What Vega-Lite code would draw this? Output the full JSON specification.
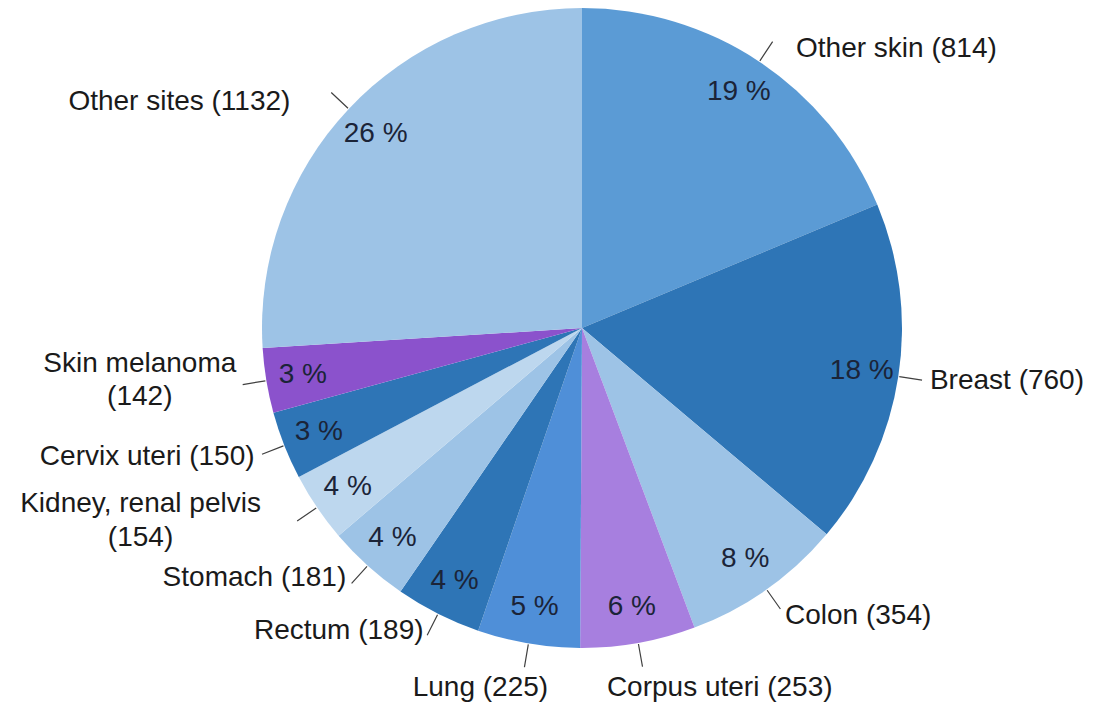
{
  "$schema": "https://vega.github.io/schema/vega-lite/v6.json",
  "width": 1032,
  "height": 656,
  "autosize": {"type": "none"},
  "padding": {"left": 66, "top": 0, "right": 0, "bottom": 48},
  "background": "white",
  "config": {"view": {"stroke": null}, "text": {"font": "Liberation Sans", "fontSize": 28, "baseline": "middle"}},
  "data": {"values": [
    {"idx": 1, "name": "Other skin", "count": 814, "pct": "19 %", "label": "Other skin (814)"},
    {"idx": 2, "name": "Breast", "count": 760, "pct": "18 %", "label": "Breast (760)"},
    {"idx": 3, "name": "Colon", "count": 354, "pct": "8 %", "label": "Colon (354)"},
    {"idx": 4, "name": "Corpus uteri", "count": 253, "pct": "6 %", "label": "Corpus uteri (253)"},
    {"idx": 5, "name": "Lung", "count": 225, "pct": "5 %", "label": "Lung (225)"},
    {"idx": 6, "name": "Rectum", "count": 189, "pct": "4 %", "label": "Rectum (189)"},
    {"idx": 7, "name": "Stomach", "count": 181, "pct": "4 %", "label": "Stomach (181)"},
    {"idx": 8, "name": "Kidney, renal pelvis", "count": 154, "pct": "4 %", "label": "Kidney, renal pelvis\n(154)"},
    {"idx": 9, "name": "Cervix uteri", "count": 150, "pct": "3 %", "label": "Cervix uteri (150)"},
    {"idx": 10, "name": "Skin melanoma", "count": 142, "pct": "3 %", "label": "Skin melanoma\n(142)"},
    {"idx": 11, "name": "Other sites", "count": 1132, "pct": "26 %", "label": "Other sites (1132)"}
  ]},
  "encoding": {
    "theta": {"field": "count", "type": "quantitative", "stack": true},
    "order": {"field": "idx", "type": "quantitative"}
  },
  "layer": [
    {
      "mark": {"type": "arc", "radius": 320},
      "encoding": {
        "color": {
          "field": "name", "type": "nominal", "legend": null,
          "scale": {
            "domain": ["Other skin", "Breast", "Colon", "Corpus uteri", "Lung", "Rectum", "Stomach", "Kidney, renal pelvis", "Cervix uteri", "Skin melanoma", "Other sites"],
            "range": ["#5B9BD5", "#2E75B6", "#9DC3E6", "#A77FDF", "#4F8FD8", "#2E75B6", "#9DC3E6", "#BDD7EE", "#2E75B6", "#8B52CC", "#9DC3E6"]
          }
        }
      }
    },
    {
      "mark": {"type": "text", "radius": 283, "fill": "#1b2438", "align": "center"},
      "encoding": {"text": {"field": "pct", "type": "nominal"}}
    },
    {
      "mark": {"type": "text", "radius": 352, "align": "left", "fill": "#1a1a1a"},
      "encoding": {"text": {"condition": {"test": "datum.idx == 2 || datum.idx == 3", "field": "label", "type": "nominal"}, "value": ""}}
    },
    {
      "mark": {"type": "text", "radius": 352, "align": "left", "fill": "#1a1a1a", "dx": 19, "dy": 14},
      "encoding": {"text": {"condition": {"test": "datum.idx == 1", "field": "label", "type": "nominal"}, "value": ""}}
    },
    {
      "mark": {"type": "text", "radius": 352, "align": "left", "fill": "#1a1a1a", "dx": -37, "dy": 13},
      "encoding": {"text": {"condition": {"test": "datum.idx == 4", "field": "label", "type": "nominal"}, "value": ""}}
    },
    {
      "mark": {"type": "text", "radius": 352, "align": "right", "fill": "#1a1a1a", "dx": 25, "dy": 13},
      "encoding": {"text": {"condition": {"test": "datum.idx == 5", "field": "label", "type": "nominal"}, "value": ""}}
    },
    {
      "mark": {"type": "text", "radius": 352, "align": "right", "fill": "#1a1a1a", "dy": -11},
      "encoding": {"text": {"condition": {"test": "datum.idx == 6 || datum.idx == 7", "field": "label", "type": "nominal"}, "value": ""}}
    },
    {
      "mark": {"type": "text", "radius": 352, "align": "right", "fill": "#1a1a1a"},
      "encoding": {"text": {"condition": {"test": "datum.idx == 9", "field": "label", "type": "nominal"}, "value": ""}}
    },
    {
      "mark": {"type": "text", "radius": 352, "align": "right", "fill": "#1a1a1a", "dx": -35, "dy": 15},
      "encoding": {"text": {"condition": {"test": "datum.idx == 11", "field": "label", "type": "nominal"}, "value": ""}}
    },
    {
      "mark": {"type": "text", "radius": 352, "align": "center", "fill": "#1a1a1a", "lineBreak": "\n", "lineHeight": 34, "dx": -150, "dy": -21},
      "encoding": {"text": {"condition": {"test": "datum.idx == 8", "field": "label", "type": "nominal"}, "value": ""}}
    },
    {
      "mark": {"type": "text", "radius": 352, "align": "center", "fill": "#1a1a1a", "lineBreak": "\n", "lineHeight": 33, "dx": -95, "dy": -22},
      "encoding": {"text": {"condition": {"test": "datum.idx == 10", "field": "label", "type": "nominal"}, "value": ""}}
    },
    {
      "transform": [
        {"stack": "count", "groupby": [], "sort": [{"field": "idx", "order": "ascending"}], "as": ["s0", "s1"]},
        {"calculate": "(datum.s0 + datum.s1) / 2", "as": "mid"}
      ],
      "mark": {"type": "arc", "radius": 321, "radius2": 344, "stroke": "#404040", "strokeWidth": 1.2, "fill": null},
      "encoding": {
        "theta": {"field": "mid", "type": "quantitative", "stack": null},
        "theta2": {"field": "mid"}
      }
    }
  ]
}
